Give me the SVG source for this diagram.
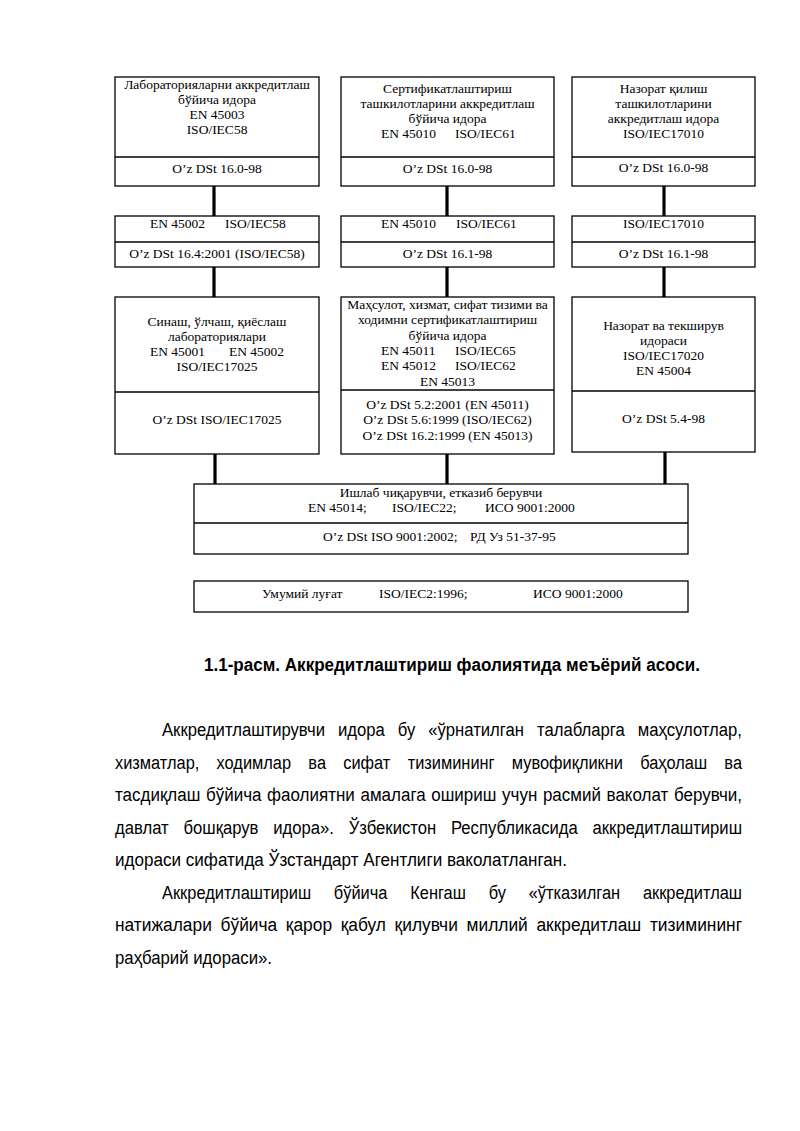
<svg xmlns="http://www.w3.org/2000/svg" width="800" height="1131" viewBox="0 0 800 1131">
<style>
.bx{fill:none;stroke:#000;stroke-width:1.3}
.dv{stroke:#000;stroke-width:1.3}
.cn{stroke:#000;stroke-width:3.2}
.t{font-family:"Liberation Serif","Times New Roman",serif;font-size:13.5px;fill:#000;text-anchor:middle}
.s{text-anchor:start}
.p{font-family:"Liberation Sans",Arial,sans-serif;font-size:18px;fill:#000}
.cap{font-family:"Liberation Sans",Arial,sans-serif;font-size:18px;font-weight:bold;fill:#000;text-anchor:middle}
</style>
<rect width="800" height="1131" fill="#fff"/>

<g id="connectors">
<line class="cn" x1="214" y1="186" x2="214" y2="216"/>
<line class="cn" x1="447" y1="186" x2="447" y2="216"/>
<line class="cn" x1="664" y1="186" x2="664" y2="216"/>
<line class="cn" x1="214" y1="267" x2="214" y2="297"/>
<line class="cn" x1="447" y1="267" x2="447" y2="297"/>
<line class="cn" x1="664" y1="267" x2="664" y2="297"/>
<line class="cn" x1="215" y1="454" x2="215" y2="484"/>
<line class="cn" x1="447" y1="454" x2="447" y2="484"/>
<line class="cn" x1="665" y1="452" x2="665" y2="484"/>
</g>

<g id="lab-accred">
<rect class="bx" x="115" y="77" width="204" height="109"/>
<line class="dv" x1="115" y1="157" x2="319" y2="157"/>
<text class="t" x="217" y="89">Лабораторияларни аккредитлаш</text>
<text class="t" x="217" y="104">бўйича идора</text>
<text class="t" x="217" y="119">EN 45003</text>
<text class="t" x="217" y="134">ISO/IEC58</text>
<text class="t" x="217" y="173">O’z DSt 16.0-98</text>
</g>

<g id="cert-accred">
<rect class="bx" x="341" y="77" width="213" height="109"/>
<line class="dv" x1="341" y1="157" x2="554" y2="157"/>
<text class="t" x="447.5" y="93">Сертификатлаштириш</text>
<text class="t" x="447.5" y="108">ташкилотларини  аккредитлаш</text>
<text class="t" x="447.5" y="123">бўйича идора</text>
<text class="t s" x="381" y="138">EN 45010</text>
<text class="t s" x="455" y="138">ISO/IEC61</text>
<text class="t" x="447.5" y="173">O’z DSt 16.0-98</text>
</g>

<g id="insp-accred">
<rect class="bx" x="572" y="77" width="183" height="109"/>
<line class="dv" x1="572" y1="157" x2="755" y2="157"/>
<text class="t" x="663.5" y="93">Назорат қилиш</text>
<text class="t" x="663.5" y="108">ташкилотларини</text>
<text class="t" x="663.5" y="123">аккредитлаш идора</text>
<text class="t" x="663.5" y="138">ISO/IEC17010</text>
<text class="t" x="663.5" y="172">O’z DSt 16.0-98</text>
</g>

<g id="lab-std">
<rect class="bx" x="115" y="216" width="204" height="51"/>
<line class="dv" x1="115" y1="242" x2="319" y2="242"/>
<text class="t s" x="150" y="228">EN 45002</text>
<text class="t s" x="225" y="228">ISO/IEC58</text>
<text class="t" x="217" y="258">O’z DSt 16.4:2001 (ISO/IEC58)</text>
</g>

<g id="cert-std">
<rect class="bx" x="341" y="216" width="213" height="51"/>
<line class="dv" x1="341" y1="242" x2="554" y2="242"/>
<text class="t s" x="381" y="228">EN 45010</text>
<text class="t s" x="456" y="228">ISO/IEC61</text>
<text class="t" x="447.5" y="258">O’z DSt 16.1-98</text>
</g>

<g id="insp-std">
<rect class="bx" x="572" y="216" width="183" height="51"/>
<line class="dv" x1="572" y1="242" x2="755" y2="242"/>
<text class="t" x="663.5" y="228">ISO/IEC17010</text>
<text class="t" x="663.5" y="258">O’z DSt 16.1-98</text>
</g>

<g id="test-labs">
<rect class="bx" x="115" y="297" width="204" height="157"/>
<line class="dv" x1="115" y1="392" x2="319" y2="392"/>
<text class="t" x="217" y="326">Синаш, ўлчаш, қиёслаш</text>
<text class="t" x="217" y="341">лабораториялари</text>
<text class="t s" x="150" y="356">EN 45001</text>
<text class="t s" x="229" y="356">EN 45002</text>
<text class="t" x="217" y="371">ISO/IEC17025</text>
<text class="t" x="217" y="423.5">O’z DSt ISO/IEC17025</text>
</g>

<g id="cert-bodies">
<rect class="bx" x="341" y="297" width="213" height="157"/>
<line class="dv" x1="341" y1="390" x2="554" y2="390"/>
<text class="t" x="447.5" y="308.5">Маҳсулот, хизмат, сифат тизими ва</text>
<text class="t" x="447.5" y="324">ходимни сертификатлаштириш</text>
<text class="t" x="447.5" y="339.5">бўйича идора</text>
<text class="t s" x="381" y="355">EN 45011</text>
<text class="t s" x="455" y="355">ISO/IEC65</text>
<text class="t s" x="381" y="370">EN 45012</text>
<text class="t s" x="455" y="370">ISO/IEC62</text>
<text class="t" x="447.5" y="385.5">EN 45013</text>
<text class="t" x="447.5" y="408.5">O’z DSt 5.2:2001 (EN 45011)</text>
<text class="t" x="447.5" y="424">O’z DSt 5.6:1999 (ISO/IEC62)</text>
<text class="t" x="447.5" y="439.5">O’z DSt 16.2:1999 (EN 45013)</text>
</g>

<g id="insp-bodies">
<rect class="bx" x="572" y="297" width="183" height="155"/>
<line class="dv" x1="572" y1="391" x2="755" y2="391"/>
<text class="t" x="663.5" y="329.5">Назорат ва текширув</text>
<text class="t" x="663.5" y="344.5">идораси</text>
<text class="t" x="663.5" y="359.5">ISO/IEC17020</text>
<text class="t" x="663.5" y="375">EN 45004</text>
<text class="t" x="663.5" y="422.5">O’z DSt 5.4-98</text>
</g>

<g id="producer">
<rect class="bx" x="194" y="484" width="494" height="70"/>
<line class="dv" x1="194" y1="523" x2="688" y2="523"/>
<text class="t" x="441" y="496.5">Ишлаб чиқарувчи, етказиб берувчи</text>
<text class="t s" x="308" y="511.5">EN 45014;</text>
<text class="t s" x="392" y="511.5">ISO/IEC22;</text>
<text class="t s" x="485" y="511.5">ИСО 9001:2000</text>
<text class="t s" x="323" y="541">O’z DSt ISO 9001:2002;</text>
<text class="t s" x="470" y="541">РД Уз 51-37-95</text>
</g>

<g id="glossary">
<rect class="bx" x="194" y="581" width="494" height="31"/>
<text class="t s" x="262" y="597.5">Умумий луғат</text>
<text class="t s" x="379" y="597.5">ISO/IEC2:1996;</text>
<text class="t s" x="533" y="597.5">ИСО 9001:2000</text>
</g>

<text class="cap" x="452" y="671" textLength="496" lengthAdjust="spacingAndGlyphs">1.1-расм. Аккредитлаштириш фаолиятида меъёрий асоси.</text>

<g id="body-text" class="p">
<text x="162" y="736" word-spacing="9" textLength="580" lengthAdjust="spacingAndGlyphs">Аккредитлаштирувчи идора бу «ўрнатилган талабларга маҳсулотлар,</text>
<text x="115" y="769" word-spacing="14" textLength="627" lengthAdjust="spacingAndGlyphs">хизматлар, ходимлар ва сифат тизимининг мувофиқликни баҳолаш ва</text>
<text x="115" y="801" word-spacing="1" textLength="627" lengthAdjust="spacingAndGlyphs">тасдиқлаш бўйича фаолиятни амалага ошириш учун расмий ваколат берувчи,</text>
<text x="115" y="834" word-spacing="11" textLength="627" lengthAdjust="spacingAndGlyphs">давлат бошқарув идора». Ўзбекистон Республикасида аккредитлаштириш</text>
<text x="115" y="866" textLength="452" lengthAdjust="spacingAndGlyphs">идораси сифатида Ўзстандарт Агентлиги ваколатланган.</text>
<text x="162" y="899" word-spacing="20" textLength="580" lengthAdjust="spacingAndGlyphs">Аккредитлаштириш бўйича Кенгаш бу «ўтказилган аккредитлаш</text>
<text x="115" y="931" word-spacing="4" textLength="627" lengthAdjust="spacingAndGlyphs">натижалари бўйича қарор қабул қилувчи миллий аккредитлаш тизимининг</text>
<text x="115" y="964" textLength="157" lengthAdjust="spacingAndGlyphs">раҳбарий идораси».</text>
</g>
</svg>
